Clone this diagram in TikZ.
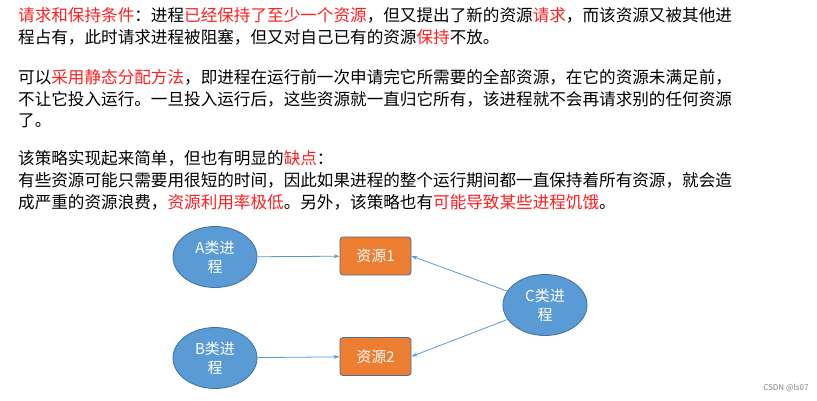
\documentclass[tikz,border=0pt]{standalone}
\usepackage{fontspec}
\setmainfont{Noto Sans CJK SC}
\usetikzlibrary{shapes.geometric,arrows.meta}
\definecolor{red1}{HTML}{FF2020}
\definecolor{ebl}{HTML}{5B9BD5}
\definecolor{ebd}{HTML}{41719C}
\definecolor{org}{HTML}{ED7D31}
\tikzset{x=1pt,y=-1pt,
 txt/.style={anchor=west,inner sep=0,font=\fontsize{16.6}{18}\selectfont},
 proc/.style={ellipse,fill=ebl,draw=ebd,line width=0.8pt,minimum width=84pt,minimum height=61pt,text=white,align=center,font=\fontsize{15}{19}\selectfont,inner sep=0},
 res/.style={rectangle,rounded corners=3pt,fill=org,draw=ebd,line width=0.8pt,minimum width=71pt,minimum height=38pt,text=white,font=\fontsize{15}{18}\selectfont},
 arr/.style={draw=ebl,line width=0.8pt,-{Stealth[length=6pt,width=4pt]}}}
\newcommand{\rd}[1]{\textcolor{red1}{#1}}
\begin{document}
\begin{tikzpicture}
\useasboundingbox[fill=white] (0,0) rectangle (817,401);
\node[txt] (l1) at (18,15) {\rd{请求和保持条件}：进程\rd{已经保持了至少一个资源}，但又提出了新的资源\rd{请求}，而该资源又被其他进};
\node[txt] (l2) at (18,37) {程占有，此时请求进程被阻塞，但又对自己已有的资源\rd{保持}不放。};
\node[txt] (l3) at (18,77) {可以\rd{采用静态分配方法}，即进程在运行前一次申请完它所需要的全部资源，在它的资源未满足前，};
\node[txt] (l4) at (18,99) {不让它投入运行。一旦投入运行后，这些资源就一直归它所有，该进程就不会再请求别的任何资源};
\node[txt] (l5) at (18,121) {了。};
\node[txt] (l6) at (18,158) {该策略实现起来简单，但也有明显的\rd{缺点}：};
\node[txt] (l7) at (18,180) {有些资源可能只需要用很短的时间，因此如果进程的整个运行期间都一直保持着所有资源，就会造};
\node[txt] (l8) at (18,202) {成严重的资源浪费，\rd{资源利用率极低}。另外，该策略也有\rd{可能导致某些进程饥饿}。};
\node[proc] (A) at (215,257) {A类进\\程};
\node[proc] (B) at (215,358) {B类进\\程};
\node[proc] (C) at (545,305) {C类进\\程};
\node[res] (R1) at (375.5,256) {资源1};
\node[res] (R2) at (375.5,356.5) {资源2};
\draw[arr] (A) -- (R1);
\draw[arr] (B) -- (R2);
\draw[arr] (C) -- (R1.east);
\draw[arr] (C) -- (R2.east);
\node[anchor=east,text=gray,font=\fontsize{8}{9}\selectfont] (wm) at (812,388) {CSDN @ls07};
\end{tikzpicture}
\end{document}
